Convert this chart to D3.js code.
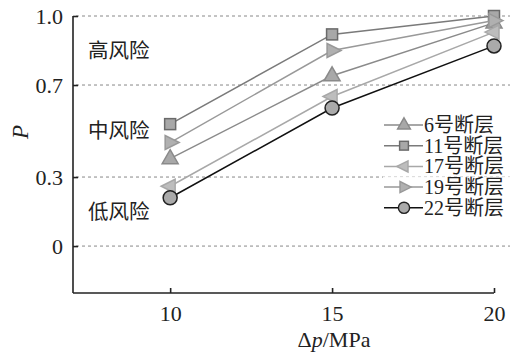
<!DOCTYPE html>
<html>
<head>
<meta charset="utf-8">
<script src="https://cdn.jsdelivr.net/npm/d3@7"></script>
<style>
body { margin: 0; background: #fff; }
</style>
</head>
<body>
<div id="chart"></div>
<script>
const width = 514;
const height = 354;
const serif = "'Liberation Serif', 'Times New Roman', serif";
const cjk = "'Liberation Serif', 'Noto Sans CJK SC', serif";

const pressures = [10, 15, 20];
const yTicks = [0, 0.3, 0.7, 1.0];
const xTicks = [10, 15, 20];
const riskLabels = ["高风险", "中风险", "低风险"];
const riskLevels = [0.85, 0.5, 0.15];

const faultNames = ["6号断层", "11号断层", "17号断层", "19号断层", "22号断层"];
const fault6 = [0.38, 0.74, 0.97];
const fault11 = [0.53, 0.92, 1.0];
const fault17 = [0.26, 0.65, 0.93];
const fault19 = [0.45, 0.85, 0.98];
const fault22 = [0.21, 0.60, 0.87];

const styles = [
	{shape: "up", line: "#8a8a8a", fill: "#a8a8a8", stroke: "#8a8a8a"},
	{shape: "square", line: "#7a7a7a", fill: "#a8a8a8", stroke: "#6a6a6a"},
	{shape: "left", line: "#a8a8a8", fill: "#bdbdbd", stroke: "#a8a8a8"},
	{shape: "right", line: "#999", fill: "#b0b0b0", stroke: "#999"},
	{shape: "circle", line: "#111", fill: "#aaa", stroke: "#222"}
];
const series = [fault6, fault11, fault17, fault19, fault22].map((v, i) => ({name: faultNames[i], values: v, style: styles[i]}));

let x = d3.scaleLinear().domain([7, 20]).range([73, 494]);
let y = d3.scaleLinear().domain([-0.204, 1.0]).range([293, 16]);

let svg = d3.select("#chart").append("svg")
	.attr("width", width)
	.attr("height", height);

// dashed grid lines
svg.append("g").selectAll("line")
	.data(yTicks)
	.enter().append("line")
	.attr("x1", 76).attr("x2", 510)
	.attr("y1", d => y(d)).attr("y2", d => y(d))
	.attr("stroke", "#888")
	.attr("stroke-width", 1)
	.attr("stroke-dasharray", "3,3");

// axes
let yAxis = d3.axisLeft(y).tickValues(yTicks).tickSize(-5).tickPadding(10)
	.tickFormat(d => d === 0 ? "0" : d3.format(".1f")(d));
let gY = svg.append("g").attr("transform", "translate(73,0)").call(yAxis);
let xAxis = d3.axisBottom(x).tickValues(xTicks).tickSize(-5).tickPadding(12);
let gX = svg.append("g").attr("transform", "translate(0,293)").call(xAxis);
[gX, gY].forEach(g => {
	g.select(".domain").attr("stroke", "#222").attr("stroke-width", 1.6);
	g.selectAll(".tick line").attr("stroke", "#222").attr("stroke-width", 1.6);
	g.selectAll(".tick text")
		.attr("fill", "#222")
		.style("font-family", serif)
		.style("font-size", "22px");
});
gY.select(".domain").attr("d", "M0," + y(1.0) + "V293");
gX.select(".domain").attr("d", "M73,0H494");

// axis titles
svg.append("text")
	.attr("transform", "translate(28,132) rotate(-90)")
	.attr("text-anchor", "middle")
	.style("font-family", serif)
	.style("font-size", "23px").style("font-style", "italic")
	.attr("fill", "#222")
	.text("P");
let xt = svg.append("text")
	.attr("x", 334).attr("y", 347)
	.attr("text-anchor", "middle")
	.style("font-family", serif)
	.style("font-size", "22px")
	.attr("fill", "#222");
xt.append("tspan").text("Δ");
xt.append("tspan").style("font-style", "italic").text("p");
xt.append("tspan").text("/MPa");

// risk zone labels
svg.append("g").selectAll("text")
	.data(riskLabels)
	.enter().append("text")
	.attr("x", 88)
	.attr("y", (d, i) => y(riskLevels[i]) + 7)
	.style("font-family", cjk)
	.style("font-size", "20.5px")
	.attr("fill", "#222")
	.text(d => d);

function drawMarker(g, shape) {
	if (shape === "circle") {
		return g.append("circle").attr("r", 7);
	}
	if (shape === "square") {
		return g.append("rect").attr("x", -5.5).attr("y", -5.5).attr("width", 11).attr("height", 11);
	}
	let pts;
	if (shape === "up") pts = [[0, -9], [8, 5], [-8, 5]];
	if (shape === "left") pts = [[-9, 0], [5, -7], [5, 7]];
	if (shape === "right") pts = [[9, 0], [-5, -7], [-5, 7]];
	return g.append("path").attr("d", "M" + pts.map(p => p.join(",")).join("L") + "Z");
}

let line = d3.line().x((d, i) => x(pressures[i])).y(d => y(d));

let groups = svg.append("g").selectAll("g")
	.data(series)
	.enter().append("g");
groups.append("path")
	.attr("d", d => line(d.values))
	.attr("fill", "none")
	.attr("stroke", d => d.style.line)
	.attr("stroke-width", 1.5);
groups.each(function(d) {
	let g = d3.select(this);
	d.values.forEach((v, i) => {
		let m = g.append("g").attr("transform", "translate(" + x(pressures[i]) + "," + y(v) + ")");
		drawMarker(m, d.style.shape)
			.attr("fill", d.style.fill)
			.attr("stroke", d.style.stroke)
			.attr("stroke-width", 1.5);
	});
});

// legend
let legend = svg.append("g").selectAll("g")
	.data(series)
	.enter().append("g")
	.attr("transform", (d, i) => "translate(0," + (125 + i * 20.7) + ")");
legend.append("rect")
	.attr("x", 383).attr("y", -10).attr("width", 131).attr("height", 20)
	.attr("fill", "#fff");
legend.append("line")
	.attr("x1", 384).attr("x2", 423)
	.attr("stroke", d => d.style.line)
	.attr("stroke-width", 1.5);
legend.each(function(d) {
	let m = d3.select(this).append("g").attr("transform", "translate(404,0) scale(0.8)");
	drawMarker(m, d.style.shape)
		.attr("fill", d.style.fill)
		.attr("stroke", d.style.stroke)
		.attr("stroke-width", 1.8);
});
legend.append("text")
	.attr("x", 424).attr("y", 7)
	.style("font-family", cjk)
	.style("font-size", "20px")
	.attr("fill", "#222")
	.text(d => d.name);
</script>
</body>
</html>
